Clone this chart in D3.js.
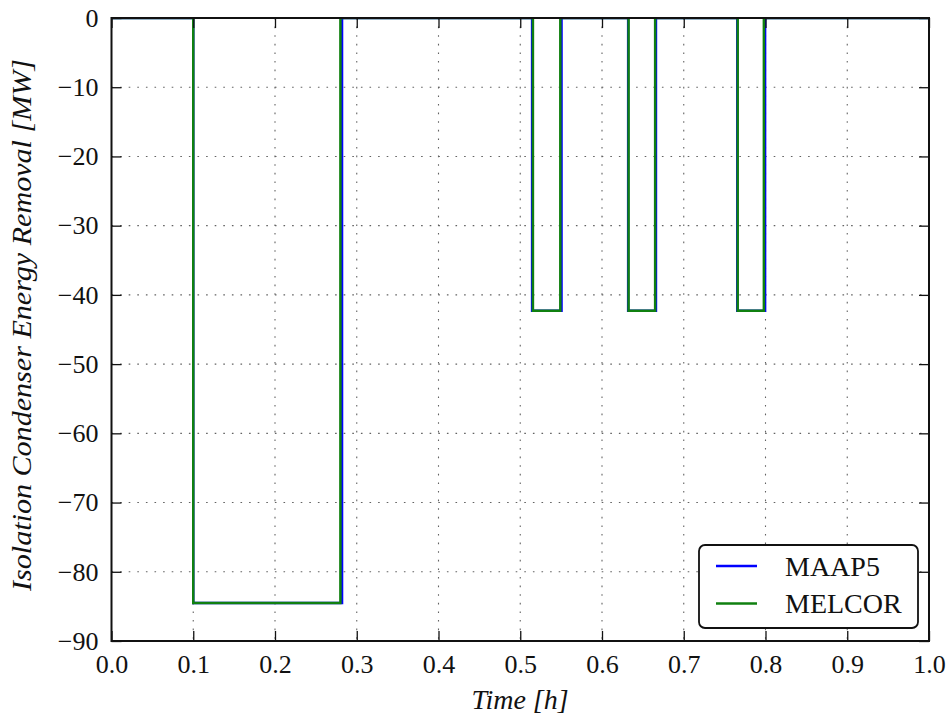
<!DOCTYPE html>
<html>
<head>
<meta charset="utf-8">
<script src="https://cdn.jsdelivr.net/npm/d3@7"></script>
<style>
  body { margin: 0; background: #fff; }
  svg { display: block; }
</style>
</head>
<body>
<svg id="chart" width="950" height="717"></svg>
<script>
// Isolation condenser operating periods: start/stop times [h] and removal level [MW]
const maap5Start = [0.1, 0.5145, 0.632, 0.7655];
const maap5Stop  = [0.282, 0.5505, 0.666, 0.7995];
const maap5Level = [-84.5, -42.3, -42.3, -42.3];

const melcorStart = [0.1, 0.5155, 0.6325, 0.766];
const melcorStop  = [0.280, 0.549, 0.665, 0.798];
const melcorLevel = [-84.5, -42.3, -42.3, -42.3];

const xTicks = [0, 0.1, 0.2, 0.3, 0.4, 0.5, 0.6, 0.7, 0.8, 0.9, 1.0];
const yTicks = [0, -10, -20, -30, -40, -50, -60, -70, -80, -90];
const seriesNames = ["MAAP5", "MELCOR"];
const seriesColors = ["#0000ff", "#108010"];

const FONT = "'Liberation Serif'";
const INK = "#111";

const svg = d3.select("#chart");
const m = { left: 111.5, right: 929, top: 18, bottom: 641 };
const x = d3.scaleLinear().domain([0, 1]).range([m.left, m.right]);
const y = d3.scaleLinear().domain([-90, 0]).range([m.bottom, m.top]);

// Build a square-wave trace from on/off times
function trace(starts, stops, levels) {
  const pts = [[0, 0]];
  starts.forEach((s, i) => {
    pts.push([s, 0], [s, levels[i]], [stops[i], levels[i]], [stops[i], 0]);
  });
  pts.push([1, 0]);
  return pts;
}

svg.append("clipPath").attr("id", "plot-clip").append("rect")
  .attr("x", m.left).attr("y", m.top).attr("width", m.right - m.left).attr("height", m.bottom - m.top);

// Dotted grid
const grid = svg.append("g").attr("stroke", "#222").attr("stroke-width", 1.1)
  .attr("stroke-dasharray", "1.6,7").attr("opacity", 0.7);
xTicks.slice(1, -1).forEach(t => grid.append("line")
  .attr("x1", x(t)).attr("x2", x(t)).attr("y1", m.top).attr("y2", m.bottom));
yTicks.slice(1, -1).forEach(t => grid.append("line")
  .attr("y1", y(t)).attr("y2", y(t)).attr("x1", m.left).attr("x2", m.right));

// Data lines
const line = d3.line().x(d => x(d[0])).y(d => y(d[1]));
const traces = [trace(maap5Start, maap5Stop, maap5Level), trace(melcorStart, melcorStop, melcorLevel)];
const plot = svg.append("g").attr("clip-path", "url(#plot-clip)");
traces.forEach((pts, i) => plot.append("path").datum(pts)
  .attr("d", line).attr("fill", "none")
  .attr("stroke", seriesColors[i]).attr("stroke-width", 2.5));

// Axes with inward ticks on all four sides
const fmtX = d3.format(".1f");
const tl = 10;
svg.append("g").attr("transform", `translate(0,${m.bottom})`)
  .call(d3.axisBottom(x).tickValues(xTicks).tickFormat(fmtX).tickSizeInner(-tl).tickSizeOuter(0).tickPadding(13.5))
  .call(g => g.select(".domain").remove());
svg.append("g").attr("transform", `translate(0,${m.top})`)
  .call(d3.axisTop(x).tickValues(xTicks).tickFormat("").tickSizeInner(-tl).tickSizeOuter(0))
  .call(g => g.select(".domain").remove());
svg.append("g").attr("transform", `translate(${m.left},0)`)
  .call(d3.axisLeft(y).tickValues(yTicks).tickSizeInner(-tl).tickSizeOuter(0).tickPadding(13))
  .call(g => g.select(".domain").remove());
svg.append("g").attr("transform", `translate(${m.right},0)`)
  .call(d3.axisRight(y).tickValues(yTicks).tickFormat("").tickSizeInner(-tl).tickSizeOuter(0))
  .call(g => g.select(".domain").remove());
svg.selectAll("g").attr("font-family", null);
svg.selectAll(".tick line").attr("stroke", "#111").attr("stroke-width", 1.3);
svg.selectAll(".tick text").style("font-family", FONT).attr("font-size", 26).attr("fill", INK);

// Frame
svg.append("rect").attr("x", m.left).attr("y", m.top)
  .attr("width", m.right - m.left).attr("height", m.bottom - m.top)
  .attr("fill", "none").attr("stroke", "#111").attr("stroke-width", 2);

// Axis titles
svg.append("text").attr("x", 520).attr("y", 709)
  .style("font-family", FONT).style("font-style", "italic").attr("fill", INK)
  .attr("text-anchor", "middle").attr("font-size", 28)
  .text("Time [h]");
svg.append("text").attr("transform", "translate(31,325) rotate(-90)")
  .style("font-family", FONT).style("font-style", "italic").attr("fill", INK)
  .attr("text-anchor", "middle").attr("font-size", 27)
  .attr("textLength", 532).attr("lengthAdjust", "spacingAndGlyphs")
  .text("Isolation Condenser Energy Removal [MW]");

// Legend
const lg = svg.append("g").attr("transform", "translate(699,545)");
lg.append("rect").attr("width", 219).attr("height", 83).attr("rx", 6)
  .attr("fill", "#fff").attr("stroke", "#111").attr("stroke-width", 1.8);
seriesNames.forEach((n, i) => {
  const yy = 21 + i * 37.5;
  lg.append("line").attr("x1", 17).attr("x2", 58).attr("y1", yy).attr("y2", yy)
    .attr("stroke", seriesColors[i]).attr("stroke-width", 2.5);
  lg.append("text").attr("x", 86).attr("y", yy + 9.5)
    .style("font-family", FONT).attr("fill", INK).attr("font-size", 28).text(n);
});
</script>
</body>
</html>
